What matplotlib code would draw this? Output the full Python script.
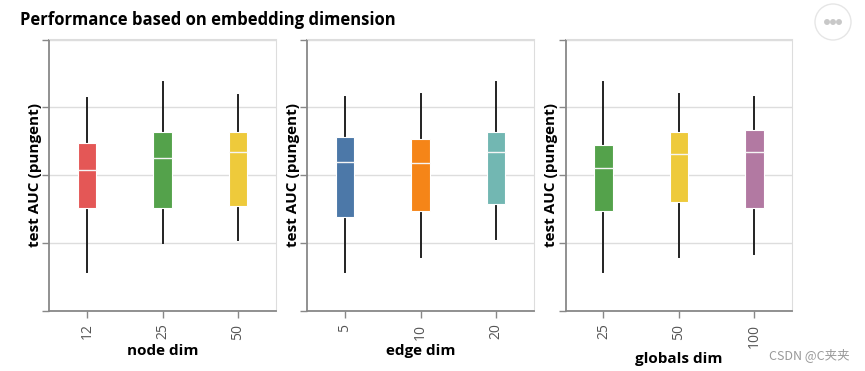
import matplotlib
matplotlib.use("Agg")
import matplotlib.pyplot as plt
from matplotlib.patches import Ellipse

plt.rcParams["font.family"] = ["Open Sans", "DejaVu Sans"]

# box stats (whisker low, q1, median, q3, whisker high)
node_dims = ["12", "25", "50"]
node_stats = [
    [0.629, 0.676, 0.704, 0.724, 0.757],
    [0.650, 0.676, 0.713, 0.732, 0.769],
    [0.652, 0.677, 0.717, 0.732, 0.759],
]
edge_dims = ["5", "10", "20"]
edge_stats = [
    [0.629, 0.669, 0.710, 0.728, 0.758],
    [0.640, 0.674, 0.709, 0.727, 0.760],
    [0.653, 0.679, 0.717, 0.732, 0.769],
]
globals_dims = ["25", "50", "100"]
globals_stats = [
    [0.629, 0.674, 0.705, 0.722, 0.769],
    [0.640, 0.680, 0.716, 0.732, 0.760],
    [0.642, 0.676, 0.717, 0.733, 0.758],
]

node_colors = ["#e45756", "#54a24b", "#eeca3b"]
edge_colors = ["#4c78a8", "#f58518", "#72b7b2"]
globals_colors = ["#54a24b", "#eeca3b", "#b279a2"]

W, H = 865, 371
fig = plt.figure(figsize=(W / 100, H / 100), dpi=100)

panels = [
    (49.3, node_dims, node_stats, node_colors, "node dim"),
    (307.3, edge_dims, edge_stats, edge_colors, "edge dim"),
    (565.7, globals_dims, globals_stats, globals_colors, "globals dim"),
]
ax_w, ax_top, ax_bot = 226.5, 39.5, 311.0

for left, cats, stats, colors, xlabel in panels:
    ax = fig.add_axes([left / W, 1 - ax_bot / H, ax_w / W, (ax_bot - ax_top) / H])
    bxp_stats = []
    for name, (lo, q1, med, q3, hi) in zip(cats, stats):
        bxp_stats.append({"label": name, "whislo": lo, "q1": q1, "med": med,
                          "q3": q3, "whishi": hi, "fliers": []})
    res = ax.bxp(bxp_stats, positions=range(len(cats)), widths=0.25,
                 patch_artist=True, showcaps=False, showfliers=False,
                 boxprops=dict(edgecolor="white", linewidth=0.8),
                 medianprops=dict(color="#f5f5f5", linewidth=1.0),
                 whiskerprops=dict(color="#222222", linewidth=1.4))
    for patch, c in zip(res["boxes"], colors):
        patch.set_facecolor(c)
        patch.set_zorder(3)
    for m in res["medians"]:
        m.set_zorder(4)
    ax.set_xlim(-0.5, 2.5)
    ax.set_ylim(0.6, 0.8)
    ax.set_yticks([0.6, 0.65, 0.7, 0.75, 0.8])
    ax.set_yticklabels([])
    ax.yaxis.grid(True, color="#dddddd", linewidth=1.0)
    ax.set_axisbelow(True)
    ax.set_xticks(range(len(cats)))
    ax.set_xticklabels(cats, rotation=90, fontsize=10, color="#555555")
    ax.tick_params(axis="both", color="#888888", length=5, width=1)
    ax.tick_params(axis="x", pad=4)
    for side in ("top", "right"):
        ax.spines[side].set_color("#dddddd")
    for side in ("left", "bottom"):
        ax.spines[side].set_color("#888888")
        ax.spines[side].set_linewidth(1.3)
    ax.set_xlabel(xlabel, fontsize=11, fontweight="bold", labelpad=3)
    ax.set_ylabel("test AUC (pungent)", fontsize=11, fontweight="bold", labelpad=-3)

fig.text(20 / W, 1 - 20 / H, "Performance based on embedding dimension",
         fontsize=12, fontweight="bold", va="center", ha="left")

# menu button in the top right corner
cx, cy = 833 / W, 1 - 22 / H
fig.add_artist(Ellipse((cx, cy), 36 / W, 36 / H, transform=fig.transFigure,
                       facecolor="white", edgecolor="#e6e6e6", linewidth=1.0))
for dx in (-6, 0, 6):
    fig.add_artist(Ellipse(((833 + dx) / W, cy), 4.5 / W, 4.5 / H,
                           transform=fig.transFigure, color="#c8c8c8"))

fig.text(850 / W, 1 - 355 / H, "CSDN @C夹夹", fontsize=9, color="#999999",
         ha="right", va="center", family=["Noto Sans CJK SC", "DejaVu Sans"])

fig.savefig("out.png", dpi=100)
